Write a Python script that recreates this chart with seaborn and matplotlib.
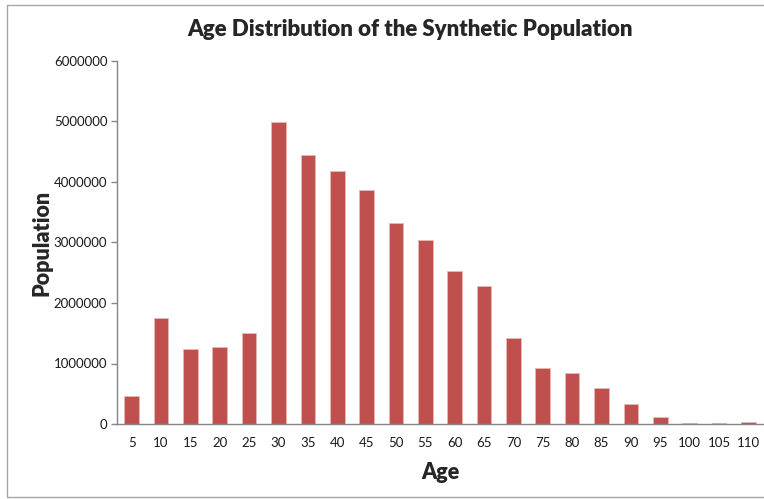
import numpy as np
import pandas as pd
import matplotlib
matplotlib.use("Agg")
import matplotlib.pyplot as plt
import seaborn as sns
from matplotlib.patches import Rectangle

# Data
ages = [5, 10, 15, 20, 25, 30, 35, 40, 45, 50, 55,
        60, 65, 70, 75, 80, 85, 90, 95, 100, 105, 110]
population = [465000, 1752000, 1238000, 1277000, 1503000, 4988000, 4452000,
              4186000, 3876000, 3323000, 3047000, 2529000, 2285000, 1422000,
              924000, 841000, 603000, 327000, 122000, 23000, 18000, 33000]
y_ticks = [0, 1000000, 2000000, 3000000, 4000000, 5000000, 6000000]

df = pd.DataFrame({"Age": [str(a) for a in ages], "Population": population})

sns.set_style("white")
plt.rcParams["font.family"] = ["Lato", "DejaVu Sans"]

fig = plt.figure(figsize=(7.64, 4.99), dpi=100)
ax = fig.add_axes([117 / 764, 1 - 424 / 499, (763 - 117) / 764, (424 - 61) / 499])

sns.barplot(data=df, x="Age", y="Population", color="#C0504D", saturation=1,
            width=0.5, edgecolor="#E6B9B8", linewidth=0.6, ax=ax)

ax.set_ylim(0, 6000000)
ax.set_xlim(-0.5, len(ages) - 0.5)
ax.set_yticks(y_ticks)
ax.set_yticklabels([str(t) for t in y_ticks])

for side in ["top", "right"]:
    ax.spines[side].set_visible(False)
for side in ["left", "bottom"]:
    ax.spines[side].set_color("#868686")
    ax.spines[side].set_linewidth(1)

ax.tick_params(axis="y", which="major", left=True, length=4, width=1,
               color="#868686", labelsize=9.5, labelcolor="#1a1a1a", pad=3)
ax.tick_params(axis="x", bottom=False, labelsize=9.5, labelcolor="#1a1a1a", pad=6)

ax.set_xlabel("Age", fontsize=15.5, fontweight="heavy", labelpad=9)
ax.set_ylabel("Population", fontsize=15.5, fontweight="heavy")
ax.yaxis.set_label_coords(-0.116, 0.5)
ax.yaxis.label.set_va("center")

fig.text(410 / 764, 1 - 30 / 499, "Age Distribution of the Synthetic Population",
         ha="center", va="center", fontsize=16, fontweight="heavy")

# chart area border
fig.patches.append(Rectangle((7 / 764, 2 / 499), 1.0, 492 / 499,
                             transform=fig.transFigure, fill=False,
                             edgecolor="#A6A6A6", linewidth=1))

fig.savefig("out.png", dpi=100, facecolor="white")
